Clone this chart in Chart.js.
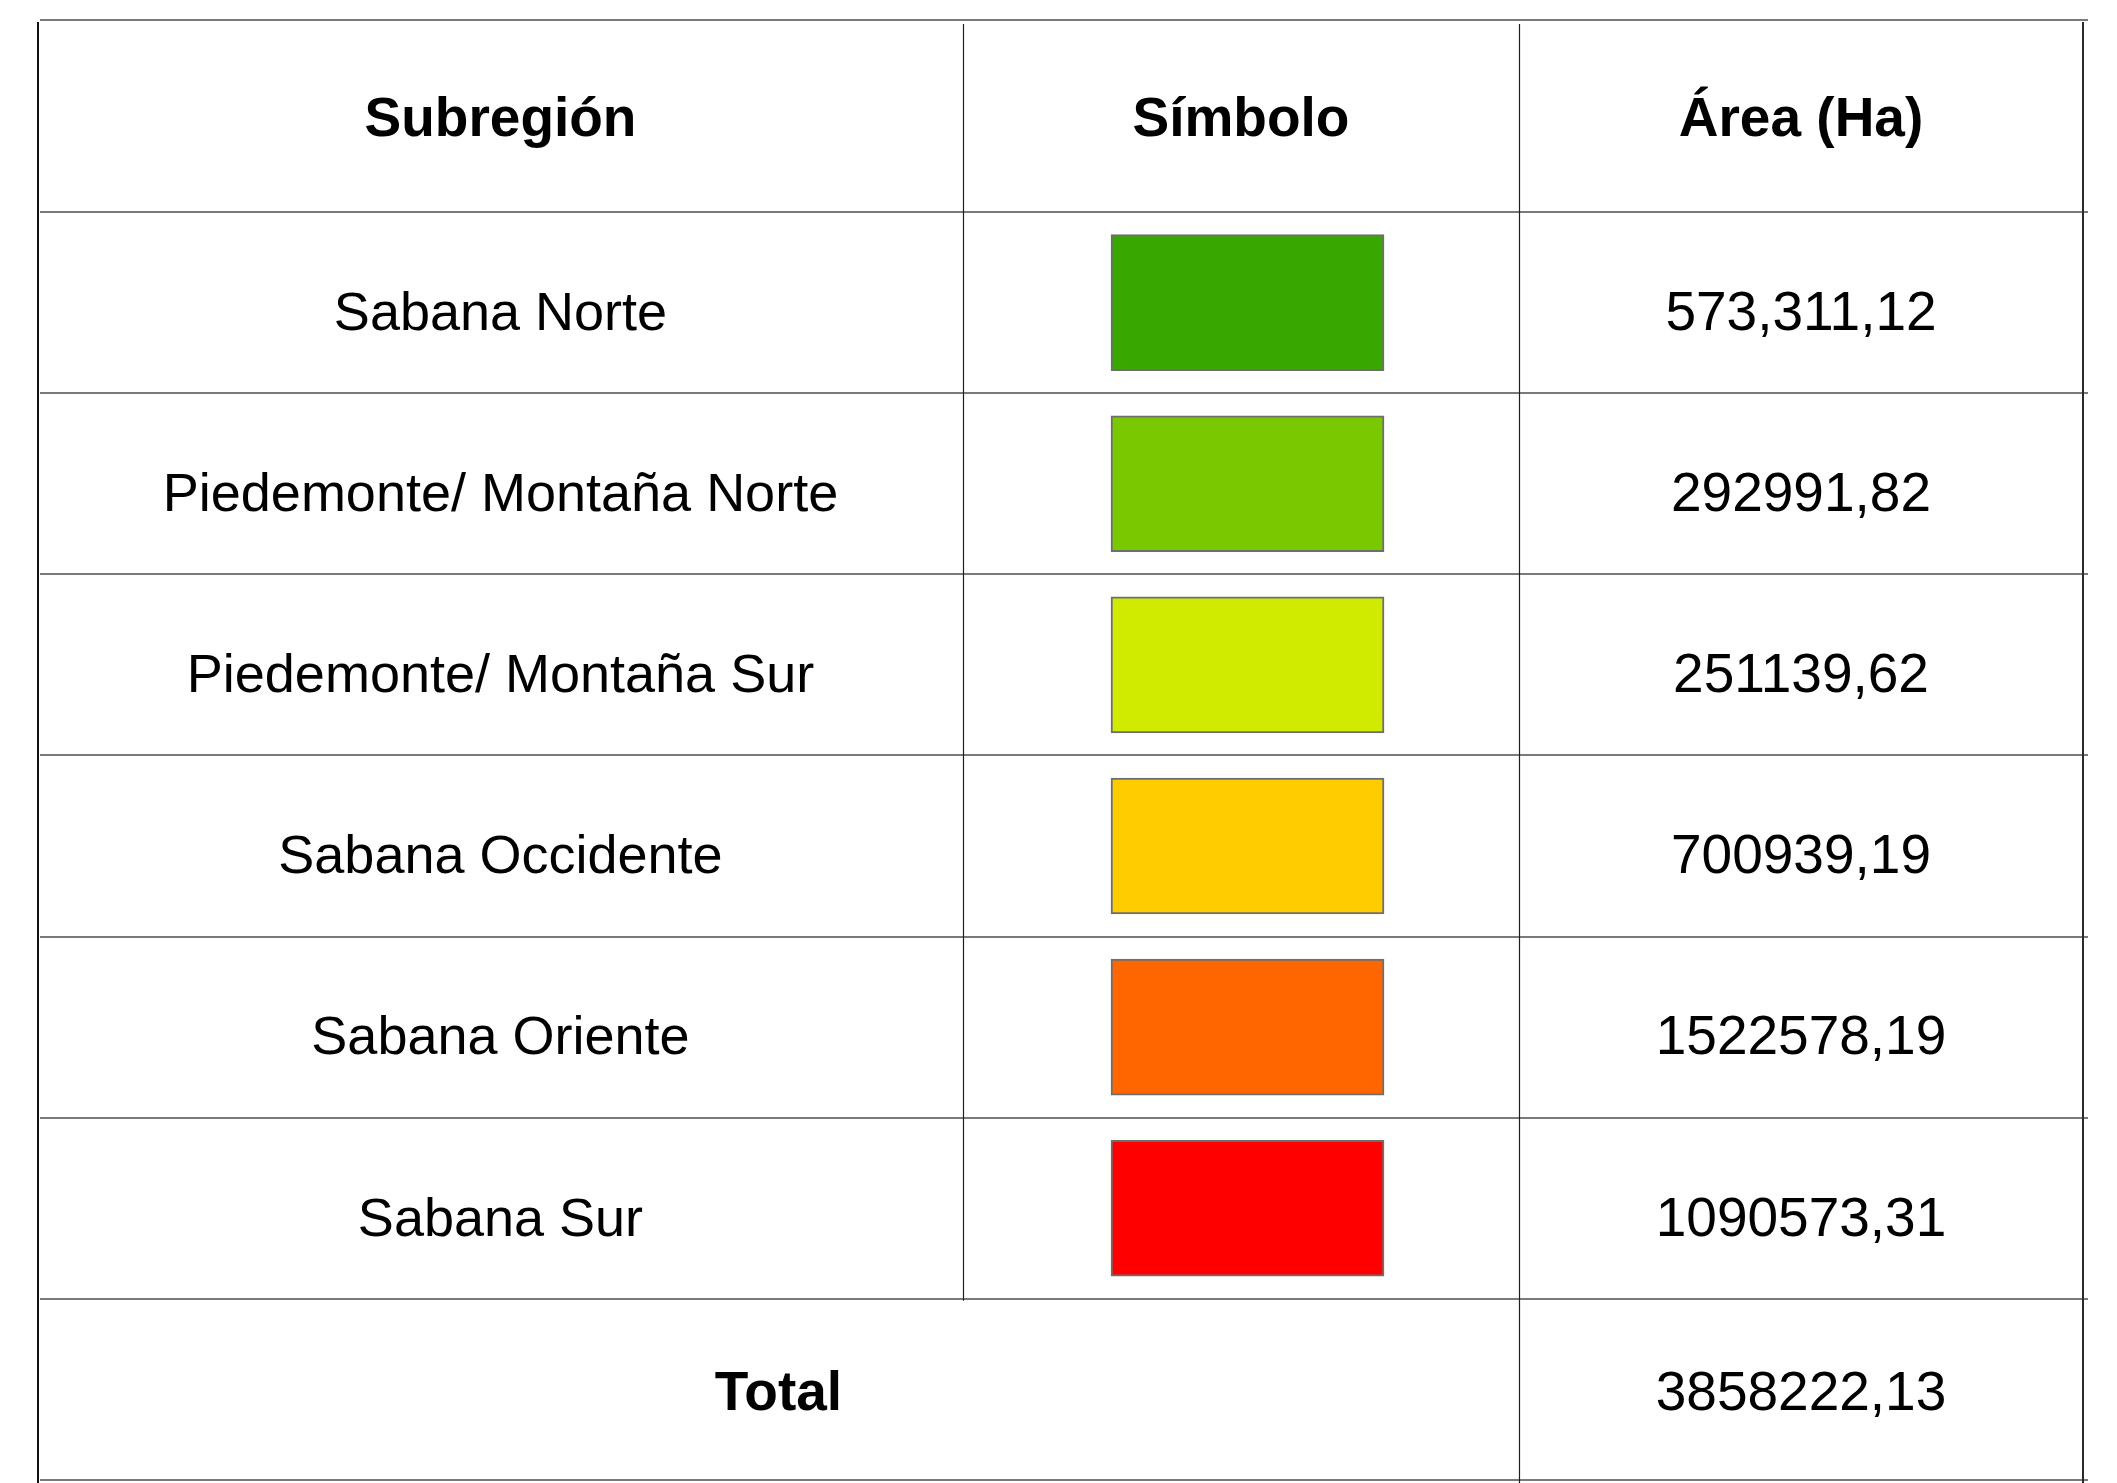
<!DOCTYPE html>
<html>
<head>
<meta charset="utf-8">
<script src="https://cdn.jsdelivr.net/npm/chart.js@4/dist/chart.umd.min.js"></script>
<style>
  html, body { margin: 0; padding: 0; background: #ffffff; }
  #wrap { width: 2117px; height: 1483px; position: relative; }
</style>
</head>
<body>
<div id="wrap"><canvas id="c"></canvas></div>
<script>
// ---- data ----
const HEADERS = ['Subregión', 'Símbolo', 'Área (Ha)'];
const SUBREGIONS = [
  'Sabana Norte',
  'Piedemonte/ Montaña Norte',
  'Piedemonte/ Montaña Sur',
  'Sabana Occidente',
  'Sabana Oriente',
  'Sabana Sur'
];
const AREA_LABELS = ['573,311,12', '292991,82', '251139,62', '700939,19', '1522578,19', '1090573,31'];
const SYMBOL_COLORS = ['#38A800', '#7AC900', '#D1EB00', '#FFCC00', '#FF6600', '#FF0000'];
const TOTAL_LABEL = 'Total';
const TOTAL_AREA = '3858222,13';

// ---- layout / style (not data) ----
const LAYOUT = {
  colEdges: [0, 45.23, 72.42, 100],   // column boundaries on the x scale (percent of table width)
  swatch: [52.47, 65.82],             // symbol box extent on the x scale
  headerHeight: 192,
  swatchThickness: 136,
  textDy: 8
};
const FONT = '"Liberation Sans", Arial, Helvetica, sans-serif';
const SIZE = { header: 55, name: 54, number: 55 };

const categories = [...SUBREGIONS, TOTAL_LABEL];
const swatchData = categories.map((_, i) => i < SUBREGIONS.length ? [LAYOUT.swatch[0], LAYOUT.swatch[1]] : null);

const tablePlugin = {
  id: 'tablePlugin',
  beforeDatasetsDraw(chart) {
    const { ctx, scales: { x, y } } = chart;
    const n = chart.data.labels.length;
    const H = chart.height;
    const rowEdge = i => y.getPixelForValue(i - 0.5);
    const headerTop = rowEdge(0) - LAYOUT.headerHeight;
    const xl = x.getPixelForValue(LAYOUT.colEdges[0]);
    const xr = x.getPixelForValue(LAYOUT.colEdges[3]);
    ctx.save();
    // horizontal rules
    ctx.strokeStyle = '#7a7a7a';
    ctx.lineWidth = 2;
    const hy = [headerTop];
    for (let i = 0; i <= n; i++) hy.push(rowEdge(i));
    ctx.beginPath();
    hy.forEach(v => {
      const yy = Math.round(v);
      ctx.moveTo(xl + 2, yy);
      ctx.lineTo(xr + 5, yy);
    });
    ctx.stroke();
    // outer left border
    ctx.strokeStyle = '#111111';
    ctx.lineWidth = 2;
    ctx.beginPath();
    ctx.moveTo(Math.round(xl), Math.round(headerTop) + 2);
    ctx.lineTo(Math.round(xl), H);
    ctx.stroke();
    // outer right border
    ctx.strokeStyle = '#2a2a2a';
    ctx.lineWidth = 2;
    ctx.beginPath();
    ctx.moveTo(Math.round(xr), Math.round(headerTop) + 2);
    ctx.lineTo(Math.round(xr), H);
    ctx.stroke();
    // inner column rules
    ctx.strokeStyle = '#1e1e1e';
    ctx.lineWidth = 1.2;
    const c1 = Math.round(x.getPixelForValue(LAYOUT.colEdges[1])) + 0.5;
    const c2 = Math.round(x.getPixelForValue(LAYOUT.colEdges[2])) + 0.5;
    ctx.beginPath();
    ctx.moveTo(c1, Math.round(headerTop) + 4);
    ctx.lineTo(c1, rowEdge(n - 1) + 2);
    ctx.moveTo(c2, Math.round(headerTop) + 4);
    ctx.lineTo(c2, H);
    ctx.stroke();
    ctx.restore();
  },
  afterDatasetsDraw(chart) {
    const { ctx, scales: { x, y } } = chart;
    const n = chart.data.labels.length;
    const ce = LAYOUT.colEdges;
    const colCenter = k => x.getPixelForValue((ce[k] + ce[k + 1]) / 2);
    const headerMid = y.getPixelForValue(-0.5) - LAYOUT.headerHeight / 2;
    ctx.save();
    ctx.fillStyle = '#000000';
    ctx.textAlign = 'center';
    ctx.textBaseline = 'alphabetic';
    // header
    ctx.font = 'bold ' + SIZE.header + 'px ' + FONT;
    const capB = 0.716 * SIZE.header / 2;
    HEADERS.forEach((h, k) => ctx.fillText(h, colCenter(k), headerMid + capB));
    // body rows
    const capR = 0.716 * SIZE.name / 2;
    SUBREGIONS.forEach((s, i) => {
      const cy = y.getPixelForValue(i) + LAYOUT.textDy + capR;
      ctx.font = SIZE.name + 'px ' + FONT;
      ctx.fillText(s, colCenter(0), cy);
      ctx.font = SIZE.number + 'px ' + FONT;
      ctx.fillText(AREA_LABELS[i], colCenter(2), cy);
    });
    // total row
    const ty = y.getPixelForValue(n - 1) + capR + 1;
    ctx.font = 'bold ' + SIZE.header + 'px ' + FONT;
    ctx.fillText(TOTAL_LABEL, x.getPixelForValue((ce[0] + ce[2]) / 2), ty);
    ctx.font = SIZE.number + 'px ' + FONT;
    ctx.fillText(TOTAL_AREA, colCenter(2), ty);
    ctx.restore();
  }
};

new Chart(document.getElementById('c'), {
  type: 'bar',
  data: {
    labels: categories,
    datasets: [{
      label: 'Símbolo',
      data: swatchData,
      backgroundColor: SYMBOL_COLORS,
      borderColor: '#6e6e6e',
      borderWidth: 2,
      borderSkipped: false,
      barThickness: LAYOUT.swatchThickness
    }]
  },
  options: {
    indexAxis: 'y',
    responsive: true,
    maintainAspectRatio: false,
    animation: false,
    events: [],
    layout: { padding: { left: 38, right: 34, top: 212, bottom: 3 } },
    plugins: { legend: { display: false }, tooltip: { enabled: false } },
    scales: {
      x: { type: 'linear', min: 0, max: 100, display: false },
      y: { type: 'category', offset: true, display: false }
    }
  },
  plugins: [tablePlugin]
});
</script>
</body>
</html>
